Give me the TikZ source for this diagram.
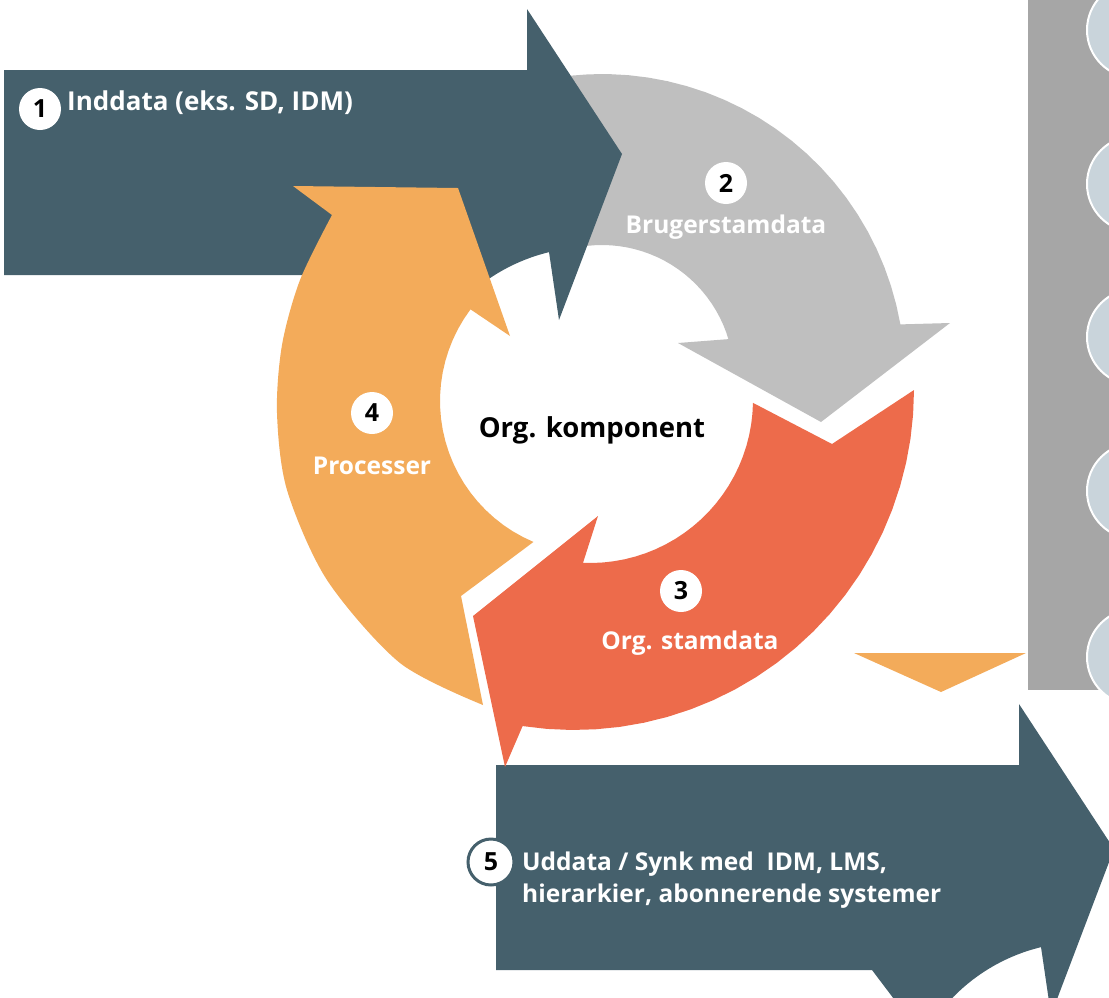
\documentclass[tikz,border=0pt]{standalone}
\usepackage{fontspec}
\setmainfont{Open Sans}
\definecolor{slate}{HTML}{45606C}
\definecolor{arrowgray}{HTML}{BFBFBF}
\definecolor{arrowred}{HTML}{ED6B4B}
\definecolor{arrowyellow}{HTML}{F3AB5A}
\definecolor{panelgray}{HTML}{A6A6A6}
\definecolor{bubble}{HTML}{C9D4DB}
\tikzset{
  badge/.style={circle, fill=white, inner sep=0pt, minimum size=42pt, text=black, font=\bfseries\fontsize{25}{28}\selectfont},
  lbl/.style={text=white, inner sep=0pt, font=\bfseries\fontsize{24.5}{32}\selectfont},
  blockarrow/.pic={
    \fill [slate] (4,70) -- (527,70) -- (527,9) -- (622,154) -- (559,320) -- (549,252)
      -- plot [domain=-103.6:-151.5] ({592+183*cos(\x)},{430+183*sin(\x)}) -- (380,275) -- (4,275) -- cycle;
  }
}
\begin{document}
\begin{tikzpicture}[x=1pt, y=-1pt]
\useasboundingbox (0,0) rectangle (1109,997);
\clip (0,0) rectangle (1109,997);

\fill [panelgray] (1028,0) rectangle (1109,690);
\foreach \y in {30,184,337,491,657}
  \draw [white, line width=2pt, fill=bubble] (1135,\y) circle (48);

\fill [arrowgray] plot [domain=-100:-10] ({602+303*cos(\x)},{377+303*sin(\x)}) -- (950,323) -- (821,422) -- (678,343) -- (730,339)
  -- plot [domain=-16.5:-100] ({602+132*cos(\x)},{377+132*sin(\x)}) -- cycle;

\pic at (0,0) {blockarrow};
\pic at (492,695) {blockarrow};

\fill [arrowred] plot [domain=0:98.7] ({574+340*cos(\x)},{390+340*sin(\x)}) -- (505,767) -- (473,616) -- (598,516) -- (582,566)
  -- plot [domain=93:1] ({590+163*cos(\x)},{400+163*sin(\x)}) -- (832,444) -- cycle;

\fill [arrowyellow] plot [smooth] coordinates {(483,705) (400,663) (327,580) (287,490) (277,413) (282,345) (300,280) (332,215)}
  -- (293,186) -- (458,188) -- (510,336) -- (467,307)
  -- plot [domain=216.7:112.9] ({593+153*cos(\x)},{401+153*sin(\x)}) -- (461,596) -- cycle;

\fill [arrowyellow] (854,653) -- (1026,653) -- (941,692) -- cycle;

\node [badge] (n1) at (40,109) {1};
\node [lbl, anchor=base west, font=\bfseries\fontsize{26}{32}\selectfont] (inddata) at (67,110) {Inddata (eks. SD, IDM)};

\node [badge] (n2) at (726,183) {2};
\node [lbl, anchor=base] (bruger) at (726,233) {Brugerstamdata};

\node [badge] (n3) at (681,591) {3};
\node [lbl, anchor=base] (orgstam) at (690,649) {Org. stamdata};

\node [badge] (n4) at (372,413) {4};
\node [lbl, anchor=base] (proc) at (372,474) {Processer};

\node [lbl, text=black, anchor=base, font=\bfseries\fontsize{27.5}{32}\selectfont] (orgkomp) at (592,437) {Org. komponent};

\node [badge, draw=slate, line width=3pt, minimum size=46pt] (n5) at (491,862) {5};
\node [lbl, anchor=west, align=left] (uddata) at (522,880) {Uddata / Synk med~ IDM, LMS,\\hierarkier, abonnerende systemer};
\end{tikzpicture}
\end{document}
